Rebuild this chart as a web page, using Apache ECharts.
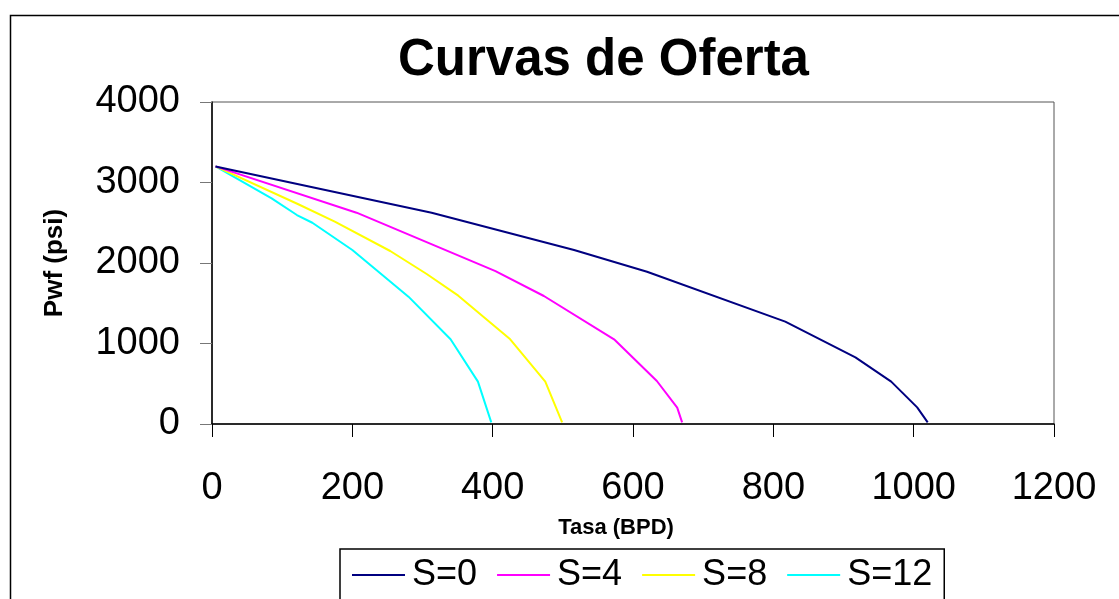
<!DOCTYPE html>
<html>
<head>
<meta charset="utf-8">
<script src="https://cdn.jsdelivr.net/npm/echarts@6/dist/echarts.min.js"></script>
<style>html,body{margin:0;padding:0;background:#fff;}#c{width:1119px;height:599px;}</style>
</head>
<body>
<div id="c"></div>
<script>
const titleText = 'Curvas de Oferta';
const xTitle = 'Tasa (BPD)';
const yTitle = 'Pwf (psi)';
const seriesNames = ['S=0', 'S=4', 'S=8', 'S=12'];
const seriesColors = ['#000080', '#ff00ff', '#ffff00', '#00ffff'];

const qS0 = [5, 313, 516, 620, 817, 917, 968, 1005, 1020];
const pS0 = [3200, 2625, 2161, 1892, 1271, 828, 526, 207, 20];

const qS4 = [5, 206, 404, 473, 573, 634, 663, 670];
const pS4 = [3200, 2625, 1900, 1590, 1052, 534, 203, 20];

const qS8 = [5, 123, 175, 254, 306, 351, 425, 475, 499];
const pS8 = [3200, 2730, 2513, 2149, 1863, 1594, 1052, 526, 20];

const qS12 = [5, 85, 121, 143, 200, 280, 340, 379, 398];
const pS12 = [3200, 2803, 2596, 2500, 2161, 1582, 1052, 526, 20];

const qList = [qS0, qS4, qS8, qS12];
const pList = [pS0, pS4, pS8, pS12];

const font = '"Liberation Sans", Arial, sans-serif';
const chart = echarts.init(document.getElementById('c'));
chart.setOption({
  animation: false,
  backgroundColor: '#fff',
  graphic: [{
    type: 'rect', left: 8, top: 13, z: -1,
    shape: { width: 1200, height: 700 },
    style: { fill: 'none', stroke: '#000', lineWidth: 1.5 }
  }],
  title: {
    text: titleText, left: 393, top: 30,
    textStyle: { fontFamily: font, fontSize: 51, fontWeight: 'bold', color: '#000' }
  },
  grid: { left: 212, right: 65, top: 102, bottom: 175, show: true, borderColor: '#555', borderWidth: 1 },
  legend: {
    left: 340, top: 549,
    padding: [8, 12, 30, 12],
    itemGap: 20,
    itemWidth: 53, itemHeight: 2,
    borderColor: '#000', borderWidth: 1.5,
    icon: 'rect',
    textStyle: { fontFamily: font, fontSize: 36, color: '#000', padding: [0, 0, 0, 2] },
    data: seriesNames
  },
  xAxis: {
    type: 'value', min: 0, max: 1200, interval: 200,
    name: xTitle, nameLocation: 'middle', nameGap: 93,
    nameTextStyle: { fontFamily: font, fontSize: 22, fontWeight: 'bold', color: '#000', padding: [0, 34, 0, 0] },
    axisLine: { show: true, lineStyle: { color: '#000', width: 1.5 } },
    axisTick: { show: true, inside: false, length: 13, lineStyle: { color: '#000' } },
    axisLabel: { margin: 46, fontFamily: font, fontSize: 38, color: '#000', formatter: v => String(v) },
    splitLine: { show: false }
  },
  yAxis: {
    type: 'value', min: 0, max: 4000, interval: 1000,
    name: yTitle, nameLocation: 'middle', nameGap: 144,
    nameTextStyle: { fontFamily: font, fontSize: 26, fontWeight: 'bold', color: '#000' },
    axisLine: { show: true, lineStyle: { color: '#000', width: 1.5 } },
    axisTick: { show: true, inside: false, length: 12, lineStyle: { color: '#777' } },
    axisLabel: { margin: 32, fontFamily: font, fontSize: 38, color: '#000', formatter: v => String(v) },
    splitLine: { show: false }
  },
  series: seriesNames.map((n, i) => ({
    name: n, type: 'line',
    data: qList[i].map((q, j) => [q, pList[i][j]]),
    showSymbol: false, symbol: 'none',
    lineStyle: { color: seriesColors[i], width: 2 },
    itemStyle: { color: seriesColors[i] },
    z: 5 - i
  }))
});
</script>
</body>
</html>
